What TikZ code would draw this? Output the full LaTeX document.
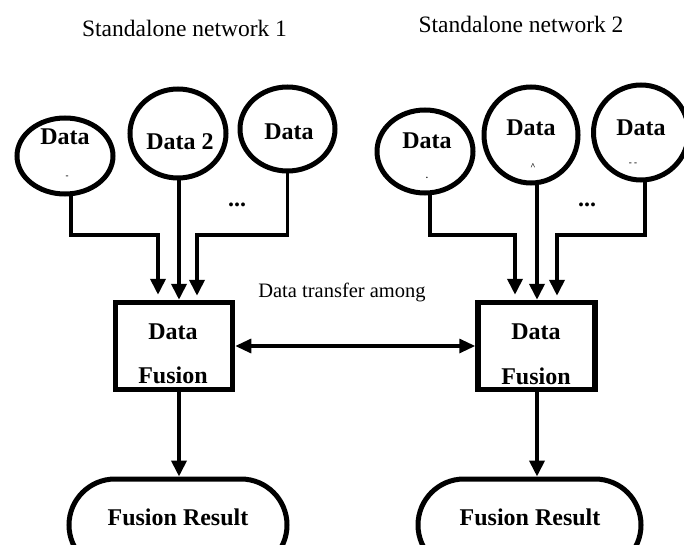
\documentclass[tikz,border=0pt]{standalone}
\usepackage{fontspec}
\setmainfont{Liberation Serif}
\usetikzlibrary{arrows.meta,shapes.geometric}
\begin{document}
\begin{tikzpicture}[x=1pt,y=-1pt,
  src/.style={draw,ellipse,line width=5pt,inner sep=0pt},
  fusebox/.style={draw,rectangle,line width=5.5pt,minimum width=117pt,minimum height=87pt,inner sep=0pt},
  term/.style={draw,rectangle,rounded corners=46pt,line width=5pt,minimum height=92pt,inner sep=0pt},
  conn/.style={line width=3.8pt,-{Triangle[width=15pt,length=16pt]}},
  link/.style={line width=3.2pt,{Triangle[width=14pt,length=16pt]}-{Triangle[width=14pt,length=16pt]}},
  btxt/.style={font=\fontsize{24}{26}\selectfont\bfseries,inner sep=0pt},
  ttl/.style={font=\fontsize{23.5}{26}\selectfont,inner sep=0pt},
  frag/.style={font=\fontsize{9}{9}\selectfont\bfseries,inner sep=0pt},
]
\useasboundingbox (0,0) rectangle (684,545);
\clip (0,0) rectangle (684,545);

% titles
\node[ttl] (t1) at (184.5,28) {Standalone network 1};
\node[ttl] (t2) at (521,24) {Standalone network 2};

% source circles, network 1
\node[src,minimum width=96pt,minimum height=76pt] (cA) at (65,156) {};
\node[src,minimum width=96pt,minimum height=89pt] (cB) at (178,133.5) {};
\node[src,minimum width=95pt,minimum height=84pt] (cC) at (287.5,129) {};
% source circles, network 2
\node[src,minimum width=96pt,minimum height=83pt] (cD) at (425,151.5) {};
\node[src,minimum width=94pt,minimum height=96pt] (cE) at (531,135) {};
\node[src,minimum width=95pt,minimum height=95pt] (cF) at (641,132.5) {};

% circle texts
\node[btxt] (lA) at (65,137) {Data};
\node[frag] (fA) at (67,177) {-};
\node[btxt] (lB) at (180,142) {Data 2};
\node[btxt] (lC) at (289,131.5) {Data};
\node[btxt] (lD) at (427,140.5) {Data};
\node[frag] (fD) at (427,178) {.};
\node[btxt] (lE) at (531,127.5) {Data};
\node[frag] (fE) at (533,167) {\textasciicircum};
\node[btxt] (lF) at (641,127.5) {Data};
\node[frag] (fF) at (633,164) {- -};

% ellipsis
\node[btxt] (dots1) at (237,205) {...};
\node[btxt] (dots2) at (587,205) {...};

% fusion boxes
\node[fusebox] (box1) at (174,346) {};
\node[fusebox] (box2) at (536.5,346) {};
\node[btxt] (b1a) at (173,331.5) {Data};
\node[btxt] (b1b) at (173,375.5) {Fusion};
\node[btxt] (b2a) at (536,331.5) {Data};
\node[btxt] (b2b) at (536,376.5) {Fusion};

% result terminals
\node[term,minimum width=218pt] (term1) at (178,525) {};
\node[term,minimum width=223pt] (term2) at (529.5,525) {};
\node[btxt] (r1) at (178,517) {Fusion Result};
\node[btxt] (r2) at (530,517) {Fusion Result};

% transfer label
\node[ttl,font=\fontsize{20.5}{22}\selectfont] (xfer) at (342,292) {Data transfer among};

% connector helpers
\coordinate (bus) at (0,235);
\coordinate (in1a) at ([xshift=-16pt,yshift=5pt]box1.north);
\coordinate (in1b) at ([xshift=5pt]box1.north);
\coordinate (in1c) at ([xshift=23pt,yshift=4pt]box1.north);
\coordinate (in2a) at ([xshift=-21.5pt,yshift=5pt]box2.north);
\coordinate (in2b) at ([xshift=0.5pt]box2.north);
\coordinate (in2c) at ([xshift=20.5pt,yshift=4pt]box2.north);
\coordinate (oA) at ([xshift=6pt]cA.south);
\coordinate (oC) at (cC.south);
\coordinate (oD) at ([xshift=5pt]cD.south);
\coordinate (oF) at ([xshift=4pt]cF.south);

% network 1 inputs
\draw[conn] (oA) -- (oA |- bus) -| (in1a);
\draw[conn] (cB.south -| in1b) -- (in1b);
\draw[conn] (oC) -- (oC |- bus) -| (in1c);
% network 2 inputs
\draw[conn] (oD) -- (oD |- bus) -| (in2a);
\draw[conn] (cE.south -| in2b) -- (in2b);
\draw[conn] (oF) -- (oF |- bus) -| (in2c);

% outputs
\coordinate (o1) at ([xshift=5pt]box1.south);
\coordinate (o2) at ([xshift=0.5pt]box2.south);
\draw[conn] (o1) -- (o1 |- term1.north);
\draw[conn] (o2) -- (o2 |- term2.north);

% transfer between networks
\draw[link] (box1.east) -- (box2.west);
\end{tikzpicture}
\end{document}
